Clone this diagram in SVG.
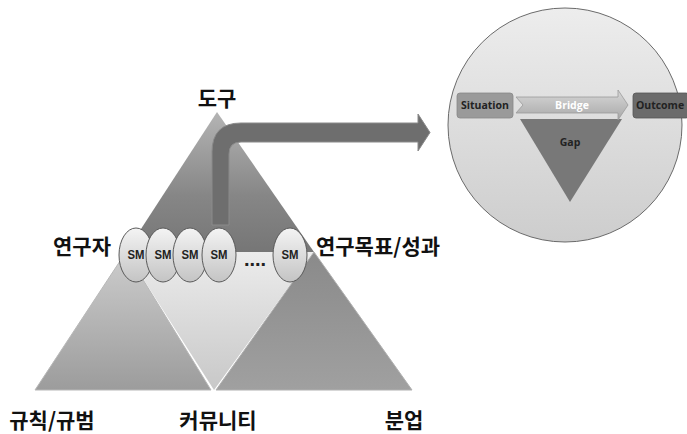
<svg xmlns="http://www.w3.org/2000/svg" width="687" height="434" viewBox="0 0 687 434">
<defs>
<linearGradient id="gTop" x1="0" y1="0" x2="0" y2="1"><stop offset="0" stop-color="#b4b4b4"/><stop offset="0.6" stop-color="#868686"/><stop offset="1" stop-color="#767676"/></linearGradient>
<linearGradient id="gMid" x1="0" y1="0" x2="0" y2="1"><stop offset="0" stop-color="#ececec"/><stop offset="1" stop-color="#c8c8c8"/></linearGradient>
<linearGradient id="gLeft" x1="0" y1="0" x2="0" y2="1"><stop offset="0" stop-color="#cdcdcd"/><stop offset="1" stop-color="#9c9c9c"/></linearGradient>
<linearGradient id="gRight" x1="0" y1="0" x2="0" y2="1"><stop offset="0" stop-color="#8a8a8a"/><stop offset="1" stop-color="#a0a0a0"/></linearGradient>
<linearGradient id="gCircle" x1="0" y1="0" x2="0" y2="1"><stop offset="0" stop-color="#ededed"/><stop offset="1" stop-color="#cdcdcd"/></linearGradient>
<linearGradient id="gSm" x1="0" y1="0" x2="0" y2="1"><stop offset="0" stop-color="#f4f4f4"/><stop offset="1" stop-color="#c4c4c4"/></linearGradient>
<linearGradient id="gBridge" x1="0" y1="0" x2="0" y2="1"><stop offset="0" stop-color="#d8d8d8"/><stop offset="1" stop-color="#a8a8a8"/></linearGradient>
</defs>
<style>
.kr{font-family:"Noto Sans CJK KR","Noto Sans",sans-serif;font-weight:bold;font-size:21px;fill:#111}
.sm{font-family:"Liberation Sans",Arial,sans-serif;font-weight:bold;font-size:12px;fill:#222}
.dots{font-family:"Liberation Sans",Arial,sans-serif;font-weight:bold;font-size:20px;fill:#222}
.en{font-family:"Open Sans","Liberation Sans",sans-serif;font-weight:bold;font-size:10.5px}
.smc{fill:url(#gSm);stroke:#5a5a5a;stroke-width:1}
</style>

<g id="pyramid">
<polygon id="tri-top" points="217,112 126,252 314,252" fill="url(#gTop)"/>
<polygon id="tri-mid" points="126,252 314,252 214,390" fill="url(#gMid)"/>
<polygon id="tri-left" points="126,252 35,390 211,390" fill="url(#gLeft)" stroke="#b8b8b8" stroke-width="1"/>
<polygon id="tri-right" points="314,252 216,390 412,390" fill="url(#gRight)" stroke="#b0b0b0" stroke-width="1"/>
</g>

<g id="connectors">
<path d="M212,225 V152 Q212,123 241,123 H418 V114 L430,132.5 L418,151 V142 H241 Q229,142 229,154 V225 Z" fill="#6e6e6e" stroke="#8a8a8a" stroke-width="1"/>
</g>

<g id="researchers">
<ellipse class="smc" cx="136" cy="255" rx="17" ry="27"/>
<text class="sm" x="136" y="259" text-anchor="middle" textLength="17" lengthAdjust="spacingAndGlyphs">SM</text>
<ellipse class="smc" cx="163" cy="255" rx="17" ry="27"/>
<text class="sm" x="163" y="259" text-anchor="middle" textLength="17" lengthAdjust="spacingAndGlyphs">SM</text>
<ellipse class="smc" cx="190" cy="255" rx="17" ry="27"/>
<text class="sm" x="190" y="259" text-anchor="middle" textLength="17" lengthAdjust="spacingAndGlyphs">SM</text>
<ellipse class="smc" cx="219" cy="255" rx="17" ry="27"/>
<text class="sm" x="219" y="259" text-anchor="middle" textLength="17" lengthAdjust="spacingAndGlyphs">SM</text>
<text class="dots" x="255" y="266" text-anchor="middle">....</text>
<ellipse class="smc" cx="290" cy="255" rx="17" ry="27"/>
<text class="sm" x="290" y="259" text-anchor="middle" textLength="17" lengthAdjust="spacingAndGlyphs">SM</text>
</g>

<g id="labels">
<text class="kr" x="217" y="106" text-anchor="middle">도구</text>
<text class="kr" x="82" y="254" text-anchor="middle">연구자</text>
<text class="kr" x="378" y="254" text-anchor="middle">연구목표/성과</text>
<text class="kr" x="52" y="428" text-anchor="middle">규칙/규범</text>
<text class="kr" x="218" y="428" text-anchor="middle">커뮤니티</text>
<text class="kr" x="404" y="428" text-anchor="middle">분업</text>
</g>

<g id="gap-circle">
<circle cx="565" cy="125" r="117" fill="url(#gCircle)" stroke="#6a6a6a" stroke-width="1"/>
<polygon points="520,119 622,119 570,202" fill="#787878"/>
<text class="en" x="570" y="146" text-anchor="middle" fill="#222">Gap</text>
<polygon points="516,97 618,97 618,90 628,105 618,120 618,113 516,113 523,105" fill="url(#gBridge)" stroke="#9a9a9a" stroke-width="0.8"/>
<text class="en" x="572" y="109" text-anchor="middle" fill="#fff">Bridge</text>
<rect x="457" y="93" width="56" height="25" rx="3" fill="#9a9a9a" stroke="#888" stroke-width="0.8"/>
<text class="en" x="485" y="109" text-anchor="middle" fill="#222">Situation</text>
<rect x="633" y="93" width="56" height="25" rx="3" fill="#6b6b6b" stroke="#555" stroke-width="0.8"/>
<text class="en" x="660" y="109" text-anchor="middle" fill="#222">Outcome</text>
</g>
</svg>
